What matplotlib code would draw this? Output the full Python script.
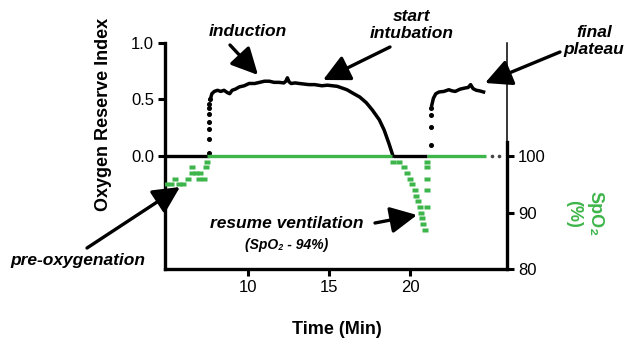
import matplotlib
matplotlib.use("Agg")
import matplotlib.pyplot as plt
import numpy as np

plt.rcParams["font.family"] = ["Liberation Sans", "DejaVu Sans"]

GREEN = "#3DB54A"
BLACK = "#000000"
W, H = 633, 346

# ORi, rise after pre-oxygenation (dotted)
ori_rise1_t = [7.6, 7.6, 7.6, 7.6, 7.6, 7.6, 7.6, 7.62]
ori_rise1 = [0.03, 0.15, 0.24, 0.30, 0.37, 0.42, 0.46, 0.50]

# ORi, induction plateau and fall at intubation
ori_t = [7.65, 7.75, 7.9, 8.1, 8.3, 8.5, 8.7, 8.85, 9.0, 9.2, 9.45, 9.75, 10.05, 10.4, 10.7,
         11.0, 11.3, 11.6, 11.9, 12.2, 12.32, 12.42, 12.52, 12.65, 12.9, 13.15, 13.45,
         13.75, 14.1, 14.55, 14.9, 15.2, 15.5, 15.8, 16.1, 16.4, 16.9, 17.3, 17.65,
         18.1, 18.4, 18.7, 18.95]
ori = [0.50, 0.55, 0.57, 0.58, 0.57, 0.58, 0.56, 0.55, 0.58, 0.59, 0.61, 0.62, 0.64, 0.64, 0.65,
       0.66, 0.66, 0.65, 0.65, 0.645, 0.66, 0.69, 0.655, 0.64, 0.645, 0.64, 0.635,
       0.63, 0.63, 0.62, 0.625, 0.62, 0.615, 0.60, 0.585, 0.56, 0.52, 0.47, 0.41,
       0.32, 0.23, 0.11, 0.0]

# ORi, rise after ventilation resumed (dotted) and final plateau
ori_rise2_t = [21.3, 21.3, 21.32, 21.33]
ori_rise2 = [0.10, 0.26, 0.36, 0.42]
ori2_t = [21.35, 21.45, 21.6, 21.8, 22.1, 22.4, 22.6, 22.8, 23.1, 23.4, 23.6, 23.75, 23.9,
          24.1, 24.3, 24.55]
ori2 = [0.45, 0.51, 0.55, 0.565, 0.57, 0.585, 0.575, 0.57, 0.59, 0.60, 0.605, 0.63, 0.595,
        0.58, 0.575, 0.565]

# ORi flat at zero (no hyperoxia)
ori_zero_t = [4.85, 7.55, np.nan, 18.95, 21.05]
ori_zero = [0, 0, np.nan, 0, 0]
trail_t = [25.1, 25.5]
trail = [0, 0]

# SpO2 (%)
spo2_pre_t = [4.9, 5.2, 5.45, 5.7, 5.95, 6.3, 6.5, 6.55, 6.75, 6.95, 7.0, 7.25, 7.4, 7.45]
spo2_pre = [95, 95, 96, 95, 95, 96, 97, 98, 97, 96, 97, 96, 98, 99]
spo2_flat_t = [7.45, 18.9, np.nan, 21.05, 24.7]
spo2_flat = [100, 100, np.nan, 100, 100]
spo2_desat_t = [18.95, 19.3, 19.6, 19.8, 20.0, 20.12, 20.28, 20.38, 20.5, 20.6, 20.68,
                20.75, 20.82, 20.93]
spo2_desat = [99, 99, 98, 97, 96, 95, 94, 93, 92, 91, 90, 89, 88, 87]
spo2_recov_t = [21.05, 21.05, 21.05, 21.05, 21.05]
spo2_recov = [99, 98, 96, 94, 91]

x_ticks = [10, 15, 20]
ori_ticks = [0.0, 0.5, 1.0]
spo2_ticks = [80, 90, 100]


def fpx(x, y):
    """Pixel position from top-left -> figure fraction."""
    return x / W, 1 - y / H


fig = plt.figure(figsize=(W / 100, H / 100), dpi=100)
ax = fig.add_axes([165 / W, 76.7 / H, 342 / W, 226.6 / H])
ax2 = ax.twinx()

# ORi
ax.plot(ori_zero_t, ori_zero, color=BLACK, lw=2.4, solid_capstyle="butt", zorder=3)
ax.plot(ori_rise1_t, ori_rise1, "o", color=BLACK, ms=2.6, zorder=3)
ax.plot(ori_t, ori, color=BLACK, lw=2.5, zorder=3)
ax.plot(ori_rise2_t, ori_rise2, "o", color=BLACK, ms=2.6, zorder=3)
ax.plot(ori2_t, ori2, color=BLACK, lw=2.5, zorder=3)
ax.plot(trail_t, trail, "o", color="#444444", ms=1.6, zorder=3)

# SpO2
rect = [(-1.5, -1), (1.5, -1), (1.5, 1), (-1.5, 1), (-1.5, -1)]
ax2.plot(spo2_flat_t, spo2_flat, color=GREEN, lw=2.4, solid_capstyle="butt")
for t, v in [(spo2_pre_t, spo2_pre), (spo2_desat_t, spo2_desat), (spo2_recov_t, spo2_recov)]:
    ax2.plot(t, v, ls="none", marker=rect, ms=5, color=GREEN, mec="none")

ax.set_xlim(4.85, 26.0)
ax.set_ylim(-1.0, 1.0)
ax2.set_ylim(80, 120)

# Format axes
ax.set_xticks(x_ticks)
ax.set_yticks(ori_ticks)
ax.set_yticklabels([f"{v:.1f}" for v in ori_ticks])
ax2.set_yticks(spo2_ticks)

for a in (ax, ax2):
    for s in a.spines.values():
        s.set_visible(False)
    a.tick_params(labelsize=12, width=2.2, length=5, pad=3, direction="out")

ax.spines["left"].set_visible(True)
ax.spines["bottom"].set_visible(True)
ax.spines["left"].set_linewidth(2.4)
ax.spines["bottom"].set_linewidth(2.4)
ax.spines["left"].set_capstyle("projecting")
ax2.spines["right"].set_visible(True)
ax2.spines["right"].set_linewidth(2.4)
ax2.spines["right"].set_bounds(80, 102.5)
ax2.axvline(26.0, ymin=0.5625, ymax=1.0, color=BLACK, lw=1.1, clip_on=False)

# Labels
fig.text(*fpx(104, 114), "Oxygen Reserve Index", rotation=90, fontsize=13, fontweight="bold",
         ha="center", va="center")
fig.text(*fpx(337, 329), "Time (Min)", fontsize=13, fontweight="bold", ha="center", va="center")
fig.text(*fpx(584, 214), "SpO₂\n(%)", rotation=270, fontsize=13, fontweight="bold",
         color=GREEN, ha="center", va="center", multialignment="center", linespacing=1.35)

# Annotations
notes = [
    ("induction", (248, 32), (230, 45), (258, 75)),
    ("start\nintubation", (412, 25), (390, 47), (323, 80)),
    ("final\nplateau", (594, 41), (560, 52), (485, 83)),
    ("pre-oxygenation", (78, 260), (87, 248), (180, 187)),
    ("resume ventilation", (287, 223), (375, 223), (417, 215)),
]
for text, pos, tail, tip in notes:
    fig.text(*fpx(*pos), text, fontsize=12.5, fontweight="bold", style="italic",
             ha="center", va="center", linespacing=1.15)
    ax.annotate("", xy=fpx(*tip), xytext=fpx(*tail), xycoords="figure fraction",
                textcoords="figure fraction",
                arrowprops=dict(arrowstyle="-|>,head_length=0.9,head_width=0.45", lw=2.4,
                                color=BLACK, shrinkA=0, shrinkB=0, mutation_scale=18))
fig.text(*fpx(287, 245), "(SpO₂ - 94%)", fontsize=10, fontweight="bold", style="italic",
         ha="center", va="center")

fig.savefig("out.png", dpi=100)
